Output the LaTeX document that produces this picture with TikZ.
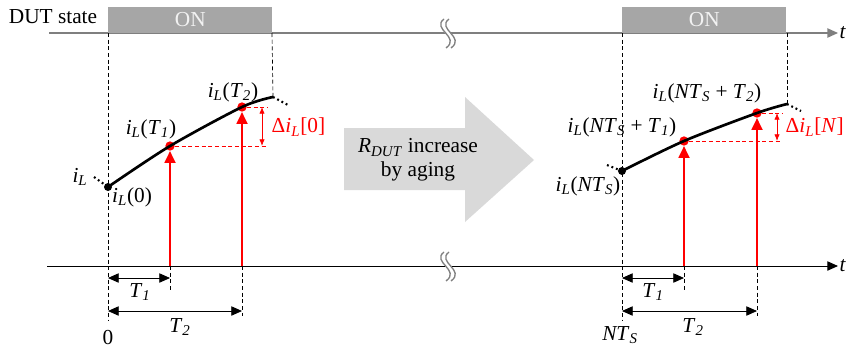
\documentclass[tikz,border=0pt]{standalone}
\usepackage{fontspec}
\setmainfont{Liberation Serif}
\usepackage{tikz}
\usetikzlibrary{positioning,calc,arrows.meta}

\definecolor{onfill}{HTML}{A6A6A6}
\definecolor{ontext}{HTML}{F2F2F2}
\definecolor{agingfill}{HTML}{D9D9D9}
\definecolor{axisgray}{HTML}{7F7F7F}

\newcommand{\iL}{\textit{i}\textsubscript{\textit{L}}}
\newcommand{\Tk}[1]{\textit{T}\textsubscript{\textit{#1}}}
\newcommand{\NTs}{\textit{NT}\textsubscript{\textit{S}}}

\begin{document}
\begin{tikzpicture}[
    x=0.75pt, y=-0.75pt,
    font=\fontsize{16}{18}\selectfont,
    axis/.style={-{Triangle[length=8pt,width=7pt]}, line width=0.7pt},
    guide/.style={line width=0.5pt, dash pattern=on 3pt off 2pt},
    curve/.style={line width=2pt},
    tail/.style={line width=1.6pt, dash pattern=on 1.4pt off 2.2pt},
    sample/.style={red, line width=2pt, -{Triangle[length=9pt,width=8pt]}},
    sampledot/.style={circle, fill=red, minimum size=7pt, inner sep=0pt},
    startdot/.style={circle, fill=black, minimum size=6pt, inner sep=0pt},
    level/.style={red, line width=0.5pt, dash pattern=on 3pt off 2pt},
    deltaarrow/.style={red, {Latex[length=5pt,width=4pt]}-{Latex[length=5pt,width=4pt]}, line width=0.6pt},
    dimarrow/.style={{Triangle[length=8pt,width=7pt]}-{Triangle[length=8pt,width=7pt]}, line width=0.6pt},
    onbox/.style={fill=onfill, text=ontext, anchor=south west, minimum width=123pt, minimum height=19.5pt, inner sep=0pt},
    breakline/.style={axisgray, line width=1pt}
]
\useasboundingbox (0,0) rectangle (849,354);

% Axes
\node (state) at (53,17) {DUT state};
\coordinate (top0) at (49,33);
\coordinate (top1) at (838,33);
\coordinate (bot0) at (47,266);
\coordinate (bot1) at (838,266);
\draw[axis, axisgray, line width=1pt] (top0) -- (top1);
\draw[axis] (bot0) -- (bot1);
\node[anchor=west, inner sep=1pt] (ttop) at (top1) {\textit{t}};
\node[anchor=west, inner sep=1pt] (tbot) at (bot1) {\textit{t}};

% Breaks
\foreach \yb in {33,266}{
  \draw[white, line width=3.5pt] (446.5,\yb-14) .. controls (433.5,\yb-4) and (463.5,\yb+4) .. (448.5,\yb+15);
  \foreach \dx in {0,5}{
    \draw[breakline] (444+\dx,\yb-14) .. controls (431+\dx,\yb-4) and (461+\dx,\yb+4) .. (446+\dx,\yb+15);
  }
}

% ON intervals
\node[onbox] (on0) at (108,33) {ON};
\node[onbox] (onN) at (622,33) {ON};

% First period
\node[startdot] (s0) at (108,187) {};
\node[sampledot] (p1) at (170,146) {};
\node[sampledot] (p2) at (242,107) {};
\coordinate (e0) at (273,97);
\draw[curve] plot[smooth] coordinates {(s0.center) (p1.center) (p2.center) (e0)};
\draw[tail] (94,177) -- (s0);
\draw[tail] (e0) -- (288,105);

\draw[guide] (108,33) -- (108,320);
\draw[guide] (272,33) -- (e0);
\coordinate (f1) at (170,266);
\coordinate (f2) at (242,266);
\draw[guide] (f1) -- (170,291);
\draw[guide] (f2) -- (242,316);
\draw[sample] (f1) -- (p1.south);
\draw[sample] (f2) -- (p2.south);

\coordinate (h1) at (267,146);
\coordinate (h2) at (267,107);
\draw[level] (p1) -- (h1);
\draw[level] (p2) -- (h2);
\draw[deltaarrow] (262,107) -- (262,146);
\node[red, anchor=west] (d0) at (267,127) {Δ\iL[0]};

\node (lT2) at (233,92) {\iL(\Tk{2})};
\node (lT1) at (151,129) {\iL(\Tk{1})};
\node (liL) at (80,177) {\iL};
\node (l0) at (132,197) {\iL(0)};

\coordinate (z0) at (108,278);
\coordinate (z1) at (108,311);
\draw[dimarrow] (z0) -- (170,278);
\draw[dimarrow] (z1) -- (242,311);
\node (t1a) at (140,292) {\Tk{1}};
\node (t2a) at (180,327) {\Tk{2}};
\node (zero) at (108,338) {0};

% Aging arrow
\fill[agingfill] (344,128) -- (465,128) -- (465,97) -- (534,160) -- (465,222) -- (465,190) -- (344,190) -- cycle;
\node[align=center] (aging) at (418,160) {\textit{R}\textsubscript{\textit{DUT}} increase\\by aging};

% N-th period
\node[startdot] (sN) at (622,171) {};
\node[sampledot] (q1) at (684,141) {};
\node[sampledot] (q2) at (757,113) {};
\coordinate (eN) at (787,104);
\draw[curve] plot[smooth] coordinates {(sN.center) (q1.center) (q2.center) (eN)};
\draw[tail] (607,165) -- (sN);
\draw[tail] (eN) -- (801,111);

\draw[guide] (622,33) -- (622,320);
\draw[guide] (787,33) -- (eN);
\coordinate (g1) at (684,266);
\coordinate (g2) at (757,266);
\draw[guide] (g1) -- (684,291);
\draw[guide] (g2) -- (757,316);
\draw[sample] (g1) -- (q1.south);
\draw[sample] (g2) -- (q2.south);

\coordinate (k1) at (782,141);
\coordinate (k2) at (782,113);
\draw[level] (q1) -- (k1);
\draw[level] (q2) -- (k2);
\draw[deltaarrow] (777,113) -- (777,141);
\node[red, anchor=west] (dN) at (781,127) {Δ\iL[\textit{N}]};

\node (lNT2) at (707,93) {\iL(\NTs{} + \Tk{2})};
\node (lNT1) at (622,127) {\iL(\NTs{} + \Tk{1})};
\node (lNT) at (588,186) {\iL(\NTs)};

\coordinate (n0) at (622,278);
\coordinate (n1) at (622,311);
\draw[dimarrow] (n0) -- (684,278);
\draw[dimarrow] (n1) -- (757,311);
\node (t1b) at (653,292) {\Tk{1}};
\node (t2b) at (693,327) {\Tk{2}};
\node (nts) at (620,335) {\NTs};

\end{tikzpicture}
\end{document}
